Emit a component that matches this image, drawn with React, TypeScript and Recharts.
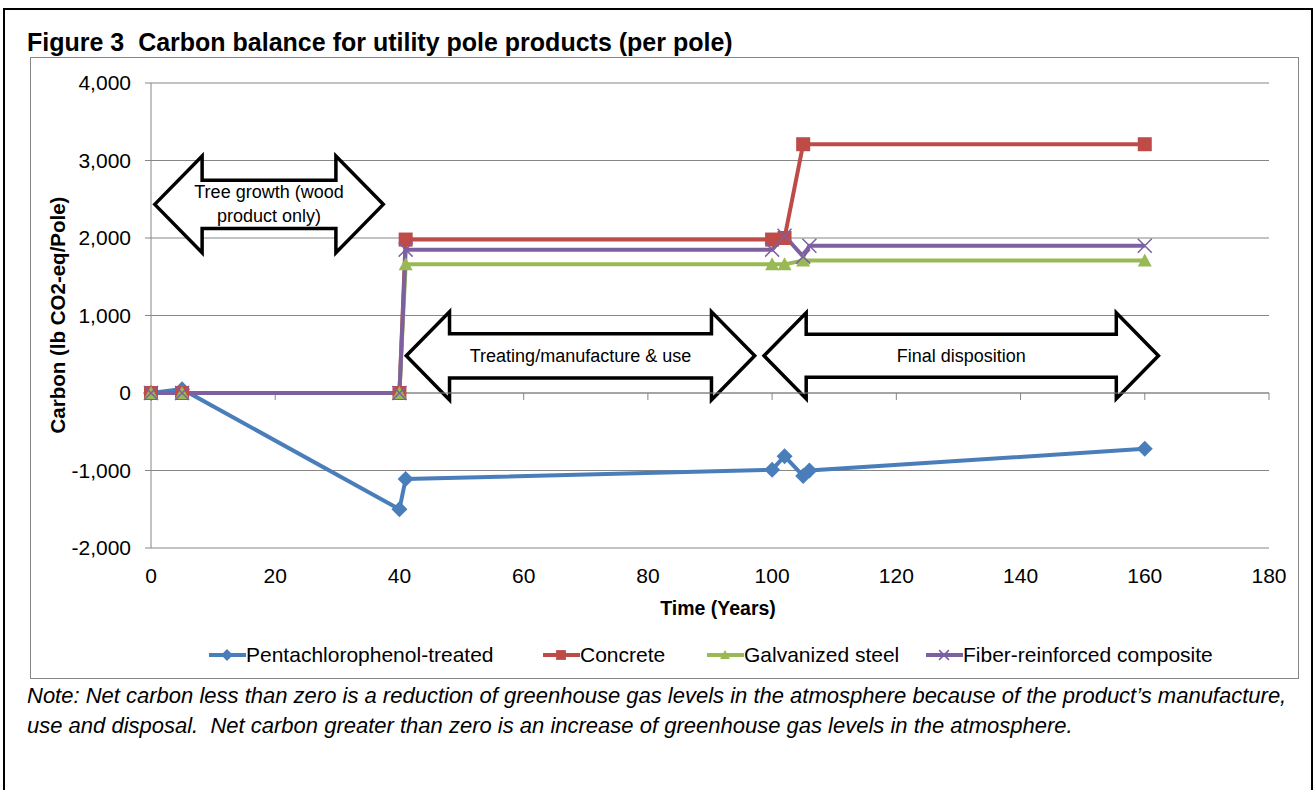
import React from 'react';
import { LineChart, Line, XAxis, YAxis, CartesianGrid, ReferenceArea, ReferenceLine } from 'recharts';

// values (years / lb CO2-eq per pole)
const pentaYears = [0, 5, 40, 41, 100, 102, 105, 106, 160];
const pentaCarbon = [0, 50, -1500, -1110, -990, -815, -1070, -1000, -720];
const concreteYears = [0, 5, 40, 41, 100, 102, 105, 160];
const concreteCarbon = [0, 0, 0, 1980, 1980, 2000, 3210, 3210];
const steelYears = [0, 5, 40, 41, 100, 102, 105, 160];
const steelCarbon = [0, 0, 0, 1660, 1660, 1660, 1710, 1710];
const compositeYears = [0, 5, 40, 41, 100, 102, 105, 106, 160];
const compositeCarbon = [0, 0, 0, 1850, 1850, 2030, 1760, 1900, 1900];

const xTicks = [0, 20, 40, 60, 80, 100, 120, 140, 160, 180];
const yTicks = [-2000, -1000, 0, 1000, 2000, 3000, 4000];

// life-cycle phase arrows, in chart units
const phaseLabels = [['Tree growth (wood', 'product only)'], ['Treating/manufacture & use'], ['Final disposition']];
const phaseYears = [[0.6, 37.4], [41.1, 97.2], [98.7, 162.2]];
const phaseCarbon = [[1810, 3058], [-90, 1049], [-74, 1036]];

const toPoints = (xs: number[], ys: number[]) => xs.map((x, i) => ({ x, y: ys[i] }));

const series = [
  { name: 'Pentachlorophenol-treated', color: '#4A7EBB', kind: 'diamond', data: toPoints(pentaYears, pentaCarbon) },
  { name: 'Concrete', color: '#BE4B48', kind: 'square', data: toPoints(concreteYears, concreteCarbon) },
  { name: 'Galvanized steel', color: '#98B954', kind: 'triangle', data: toPoints(steelYears, steelCarbon) },
  { name: 'Fiber-reinforced composite', color: '#7D60A0', kind: 'cross', data: toPoints(compositeYears, compositeCarbon) },
];

const legendLeft = [209, 543, 707, 926];

const FONT = '"Liberation Sans", Arial, sans-serif';
const GRID = '#868686';

const Marker = ({ kind, cx, cy, color, s = 1 }: any) => {
  if (cx == null || cy == null) return null;
  const r = 7 * s;
  switch (kind) {
    case 'diamond':
      return <path d={`M${cx},${cy - r - 1}L${cx + r + 1},${cy}L${cx},${cy + r + 1}L${cx - r - 1},${cy}Z`} fill={color} />;
    case 'square':
      return <rect x={cx - r} y={cy - r} width={2 * r} height={2 * r} fill={color} />;
    case 'triangle':
      return <path d={`M${cx},${cy - r}L${cx + r},${cy + r - 1}L${cx - r},${cy + r - 1}Z`} fill={color} />;
    default:
      return (
        <path
          d={`M${cx - r},${cy - r}L${cx + r},${cy + r}M${cx + r},${cy - r}L${cx - r},${cy + r}`}
          stroke={color}
          strokeWidth={1.5}
          fill="none"
        />
      );
  }
};

const BlockArrow = ({ x, y, width, height, lines }: any) => {
  const head = height * 0.49;
  const half = height * 0.25;
  const cy = y + height / 2;
  const pts = [
    [x, cy],
    [x + head, y],
    [x + head, cy - half],
    [x + width - head, cy - half],
    [x + width - head, y],
    [x + width, cy],
    [x + width - head, y + height],
    [x + width - head, cy + half],
    [x + head, cy + half],
    [x + head, y + height],
  ];
  const lh = 24;
  const y0 = cy - ((lines.length - 1) * lh) / 2;
  return (
    <g>
      <polygon points={pts.map((p) => p.join(',')).join(' ')} fill="#fff" stroke="#000" strokeWidth={3.5} />
      {lines.map((t: string, i: number) => (
        <text
          key={t}
          x={x + width / 2}
          y={y0 + i * lh}
          textAnchor="middle"
          dominantBaseline="central"
          fontFamily={FONT}
          fontSize={18}
          fill="#000"
        >
          {t}
        </text>
      ))}
    </g>
  );
};

export default function App() {
  return (
    <div style={{ position: 'absolute', left: 0, top: 0, width: 1315, height: 790, overflow: 'hidden', background: '#fff', fontFamily: FONT, color: '#000' }}>
      <div style={{ position: 'absolute', left: 3, top: 8, width: 1306, height: 800, border: '2px solid #000' }} />
      <div style={{ position: 'absolute', left: 27, top: 27, lineHeight: '30px', fontSize: 25, fontWeight: 'bold', whiteSpace: 'nowrap' }}>
        Figure 3&nbsp;&nbsp;Carbon balance for utility pole products (per pole)
      </div>
      <div style={{ position: 'absolute', left: 30, top: 57, width: 1267, height: 620, border: `1px solid ${GRID}` }} />

      <div style={{ position: 'absolute', left: 0, top: 0 }}>
        <LineChart width={1315} height={790} margin={{ top: 83, right: 46, bottom: 182, left: 52 }}>
          <CartesianGrid horizontal vertical={false} stroke={GRID} />
          <XAxis
            type="number"
            dataKey="x"
            domain={[0, 180]}
            ticks={xTicks}
            axisLine={false}
            tickLine={false}
            tickSize={0}
            tickMargin={20}
            height={60}
            tick={{ fontSize: 21, fill: '#000', fontFamily: FONT }}
          />
          <YAxis
            type="number"
            domain={[-2000, 4000]}
            ticks={yTicks}
            width={99}
            tickSize={6}
            tickMargin={14}
            axisLine={{ stroke: GRID }}
            tickLine={{ stroke: GRID }}
            tickFormatter={(v: number) => v.toLocaleString('en-US')}
            tick={{ fontSize: 21, fill: '#000', fontFamily: FONT }}
          />
          <ReferenceLine y={0} stroke={GRID} />
          {xTicks.slice(1).map((t) => (
            <ReferenceLine key={`tk${t}`} segment={[{ x: t, y: 0 }, { x: t, y: -90 }]} stroke={GRID} />
          ))}
          {phaseLabels.map((lines, i) => (
            <ReferenceArea
              key={`ph${i}`}
              x1={phaseYears[i][0]}
              x2={phaseYears[i][1]}
              y1={phaseCarbon[i][0]}
              y2={phaseCarbon[i][1]}
              shape={(p: any) => <BlockArrow {...p} lines={lines} />}
            />
          ))}
          {series.map((s) => (
            <Line
              key={s.name}
              data={s.data}
              dataKey="y"
              name={s.name}
              type="linear"
              stroke={s.color}
              strokeWidth={4}
              isAnimationActive={false}
              activeDot={false}
              dot={(p: any) => <Marker key={`${s.kind}-${p.index}`} kind={s.kind} cx={p.cx} cy={p.cy} color={s.color} />}
            />
          ))}
        </LineChart>
      </div>

      <div style={{ position: 'absolute', left: 518, top: 596, width: 400, textAlign: 'center', fontSize: 19.5, fontWeight: 'bold', lineHeight: '24px' }}>
        Time (Years)
      </div>
      <div
        style={{
          position: 'absolute',
          left: 58 - 200,
          top: 315 - 12,
          width: 400,
          height: 24,
          lineHeight: '24px',
          textAlign: 'center',
          fontSize: 20.5,
          fontWeight: 'bold',
          transform: 'rotate(-90deg)',
          whiteSpace: 'nowrap',
        }}
      >
        Carbon (lb CO2-eq/Pole)
      </div>

      {series.map((s, i) => (
        <div key={s.name} style={{ position: 'absolute', left: legendLeft[i], top: 643, height: 24, display: 'flex', alignItems: 'center', whiteSpace: 'nowrap' }}>
          <svg width={37} height={24}>
            <line x1={0} y1={12} x2={37} y2={12} stroke={s.color} strokeWidth={4} />
            <Marker kind={s.kind} cx={18} cy={12} color={s.color} s={0.7} />
          </svg>
          <span style={{ fontSize: 21, lineHeight: '24px' }}>{s.name}</span>
        </div>
      ))}

      <div style={{ position: 'absolute', left: 27, top: 681, fontSize: 22, fontStyle: 'italic', lineHeight: '30px', whiteSpace: 'nowrap' }}>
        Note: Net carbon less than zero is a reduction of greenhouse gas levels in the atmosphere because of the product’s manufacture,
        <br />
        use and disposal.&nbsp;&nbsp;Net carbon greater than zero is an increase of greenhouse gas levels in the atmosphere.
      </div>
    </div>
  );
}
